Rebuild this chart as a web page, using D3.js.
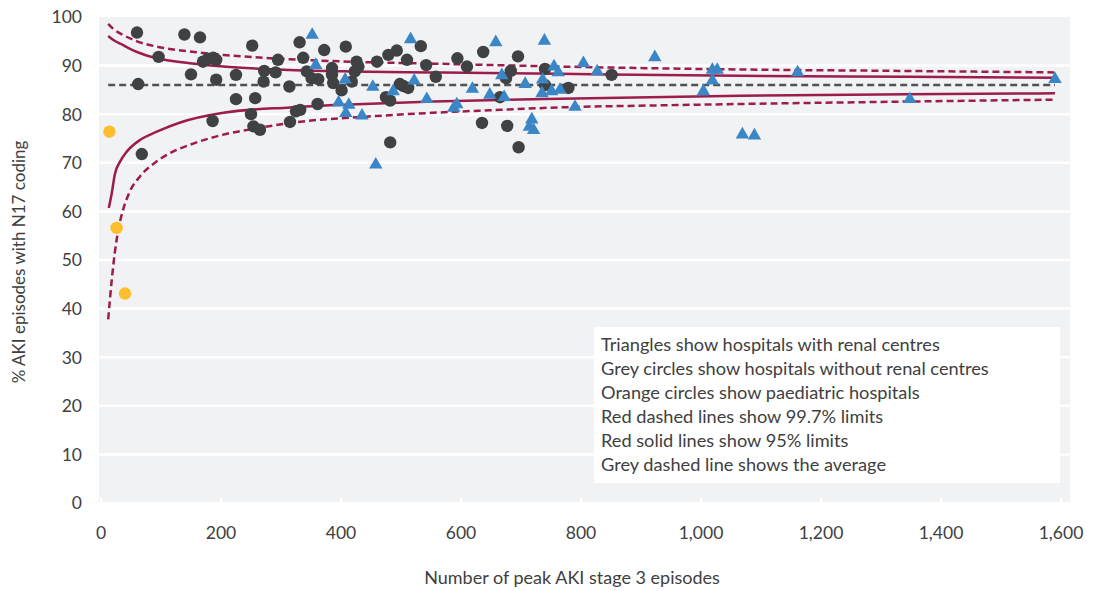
<!DOCTYPE html>
<html>
<head>
<meta charset="utf-8">
<script src="https://cdn.jsdelivr.net/npm/d3@7"></script>
<style>
  body { margin: 0; background: #fff; }
  text { font-family: Lato, "Open Sans", sans-serif; fill: #404040; }
</style>
</head>
<body>
<div class="chart"></div>
<script>
// grey circles: hospitals without renal centres
var greyN = [60, 139, 165, 252, 331, 372, 408, 96, 170, 178, 187, 192, 295, 337, 150, 192, 225, 272, 291, 271,
  314, 62, 225, 257, 250, 361, 325, 315, 186, 254, 265, 68, 343, 351, 362, 385, 385, 387, 401, 418,
  423, 426, 429, 332, 460, 479, 493, 533, 510, 542, 558, 498, 504, 512, 475, 482, 482, 594, 610, 637,
  695, 683, 675, 740, 665, 740, 635, 677, 696, 779, 851];
var greyPct = [96.8, 96.4, 95.8, 94.1, 94.8, 93.2, 93.9, 91.8, 90.8, 91.4, 91.6, 91.2, 91.2, 91.6, 88.2, 87.1, 88.1, 88.9, 88.6, 86.7,
  85.7, 86.2, 83.1, 83.3, 80.0, 82.1, 80.6, 78.4, 78.6, 77.5, 76.8, 71.8, 88.8, 87.4, 87.2, 89.5, 88.1, 86.4, 84.9, 86.7,
  88.8, 90.8, 89.8, 80.9, 90.8, 92.2, 93.1, 94.0, 91.2, 90.1, 87.7, 86.2, 85.8, 85.4, 83.5, 82.8, 74.2, 91.5, 89.8, 92.8,
  91.9, 88.9, 87.4, 89.3, 83.5, 86.0, 78.2, 77.6, 73.2, 85.4, 88.1];

// triangles: hospitals with renal centres
var triN = [352, 358, 407, 396, 413, 408, 435, 516, 453, 487, 522, 543, 458, 658, 739, 668, 755, 619, 648, 672,
  707, 736, 735, 751, 765, 588, 593, 718, 714, 721, 762, 804, 827, 923, 790, 1019, 1027, 1019, 1004, 1069,
  1089, 1161, 1348, 1590];
var triPct = [96.3, 90.1, 87.1, 82.4, 81.9, 80.2, 79.7, 95.4, 85.6, 84.7, 86.9, 83.1, 69.6, 94.8, 95.1, 88.0, 89.8, 85.2, 84.0, 83.5,
  86.2, 87.1, 84.3, 84.7, 85.0, 81.3, 82.0, 78.9, 77.4, 76.7, 88.6, 90.5, 88.8, 91.7, 81.5, 89.1, 89.1, 86.9, 84.7, 75.8,
  75.6, 88.6, 83.1, 87.2];

// orange circles: paediatric hospitals
var orangeN = [14, 26, 40];
var orangePct = [76.4, 56.6, 43.1];

// funnel limits
var upper997N = [12, 20, 37, 60, 93, 148, 204, 315, 415, 554, 765, 1065, 1343, 1590];
var upper997Pct = [98.6, 97.6, 96.3, 95.0, 93.9, 92.9, 92.2, 91.3, 90.8, 90.4, 89.8, 89.2, 88.9, 88.6];
var upper95N = [12, 20, 37, 60, 93, 148, 204, 315, 415, 554, 765, 1065, 1343, 1590];
var upper95Pct = [96.1, 95.3, 94.2, 92.8, 91.5, 90.5, 89.8, 89.1, 88.8, 88.6, 88.3, 87.9, 87.7, 87.5];
var lower95N = [13, 18, 23, 32, 43, 65, 93, 132, 204, 315, 415, 554, 765, 1065, 1343, 1590];
var lower95Pct = [60.7, 63.8, 67.6, 70.3, 72.3, 74.7, 76.4, 78.3, 80.3, 81.4, 82.0, 82.6, 83.2, 83.8, 84.1, 84.3];
var lower997N = [12, 18, 23, 29, 37, 48, 65, 93, 120, 148, 204, 260, 315, 443, 554, 665, 765, 921, 1065, 1343, 1590];
var lower997Pct = [37.8, 46.0, 51.5, 56.3, 60.4, 64.1, 67.2, 70.3, 72.3, 73.7, 75.8, 77.1, 78.2, 79.5, 80.3, 80.9, 81.4, 81.8, 82.1, 82.6, 83.0];
var averageN = [12, 1590];
var averagePct = [86.0, 86.0];

var xTicks = [0, 200, 400, 600, 800, 1000, 1200, 1400, 1600];
var yTicks = [0, 10, 20, 30, 40, 50, 60, 70, 80, 90, 100];

var legendLines = [
  'Triangles show hospitals with renal centres',
  'Grey circles show hospitals without renal centres',
  'Orange circles show paediatric hospitals',
  'Red dashed lines show 99.7% limits',
  'Red solid lines show 95% limits',
  'Grey dashed line shows the average'
];

var WIDTH = 1100, HEIGHT = 591;
var RED = '#9c1c4b';

var x = d3.scaleLinear().domain([0, 1600]).range([101, 1061]);
var y = d3.scaleLinear().domain([0, 100]).range([503, 17]);

var svg = d3.select('.chart').append('svg')
  .attr('width', WIDTH)
  .attr('height', HEIGHT);

// plot background and gridlines
svg.append('rect')
  .attr('x', 99).attr('y', 17)
  .attr('width', 971).attr('height', 486)
  .attr('fill', '#f1f2f4');

svg.selectAll('.grid')
  .data(yTicks.slice(0, -1))
  .enter().append('line')
    .attr('x1', 99).attr('x2', 1070)
    .attr('y1', function(d) { return y(d); })
    .attr('y2', function(d) { return y(d); })
    .attr('stroke', '#fff')
    .attr('stroke-width', 2.5);

svg.selectAll('.xtick')
  .data(xTicks)
  .enter().append('line')
    .attr('x1', function(d) { return x(d); })
    .attr('x2', function(d) { return x(d); })
    .attr('y1', 497).attr('y2', 504)
    .attr('stroke', '#fff')
    .attr('stroke-width', 2);

// tick labels
svg.selectAll('.ylab')
  .data(yTicks)
  .enter().append('text')
    .attr('x', 82)
    .attr('y', function(d) { return y(d); })
    .attr('dy', '0.36em')
    .attr('text-anchor', 'end')
    .style('font-size', '17.5px')
    .text(function(d) { return d; });

svg.selectAll('.xlab')
  .data(xTicks)
  .enter().append('text')
    .attr('x', function(d) { return x(d); })
    .attr('y', 539)
    .attr('text-anchor', 'middle')
    .style('font-size', '17.5px')
    .text(d3.format(','));

// axis titles
svg.append('text')
  .attr('x', 572).attr('y', 584)
  .attr('text-anchor', 'middle')
  .style('font-size', '18px')
  .text('Number of peak AKI stage 3 episodes');

svg.append('text')
  .attr('transform', 'translate(25,262) rotate(-90)')
  .attr('text-anchor', 'middle')
  .style('font-size', '17px')
  .text('% AKI episodes with N17 coding');

// legend box
svg.append('rect')
  .attr('x', 594).attr('y', 327)
  .attr('width', 466).attr('height', 156)
  .attr('fill', '#fff');

svg.selectAll('.legend')
  .data(legendLines)
  .enter().append('text')
    .attr('x', 601)
    .attr('y', function(d, i) { return 351 + i * 24; })
    .style('font-size', '18.2px')
    .text(function(d) { return d; });

// funnel lines
var line = d3.line()
  .x(function(d) { return x(d[0]); })
  .y(function(d) { return y(d[1]); })
  .curve(d3.curveMonotoneX);

function zip(a, b) {
  return a.map(function(v, i) { return [v, b[i]]; });
}

var funnel = [
  { n: averageN, p: averagePct, color: '#505254', dash: '7,4' },
  { n: upper997N, p: upper997Pct, color: RED, dash: '7,4' },
  { n: lower997N, p: lower997Pct, color: RED, dash: '7,4' },
  { n: upper95N, p: upper95Pct, color: RED, dash: null },
  { n: lower95N, p: lower95Pct, color: RED, dash: null }
];

funnel.forEach(function(f) {
  svg.append('path')
    .datum(zip(f.n, f.p))
    .attr('fill', 'none')
    .attr('stroke', f.color)
    .attr('stroke-width', 2.5)
    .attr('stroke-dasharray', f.dash)
    .attr('d', line);
});

// points
svg.selectAll('.grey')
  .data(zip(greyN, greyPct))
  .enter().append('circle')
    .attr('cx', function(d) { return x(d[0]); })
    .attr('cy', function(d) { return y(d[1]); })
    .attr('r', 6.2)
    .attr('fill', '#3f4142');

var tri = d3.symbol().type(d3.symbolTriangle).size(78);
svg.selectAll('.tri')
  .data(zip(triN, triPct))
  .enter().append('path')
    .attr('d', tri)
    .attr('transform', function(d) { return 'translate(' + x(d[0]) + ',' + y(d[1]) + ')'; })
    .attr('fill', '#3a86c6');

svg.selectAll('.orange')
  .data(zip(orangeN, orangePct))
  .enter().append('circle')
    .attr('cx', function(d) { return x(d[0]); })
    .attr('cy', function(d) { return y(d[1]); })
    .attr('r', 6.2)
    .attr('fill', '#fdbd2c');
</script>
</body>
</html>
